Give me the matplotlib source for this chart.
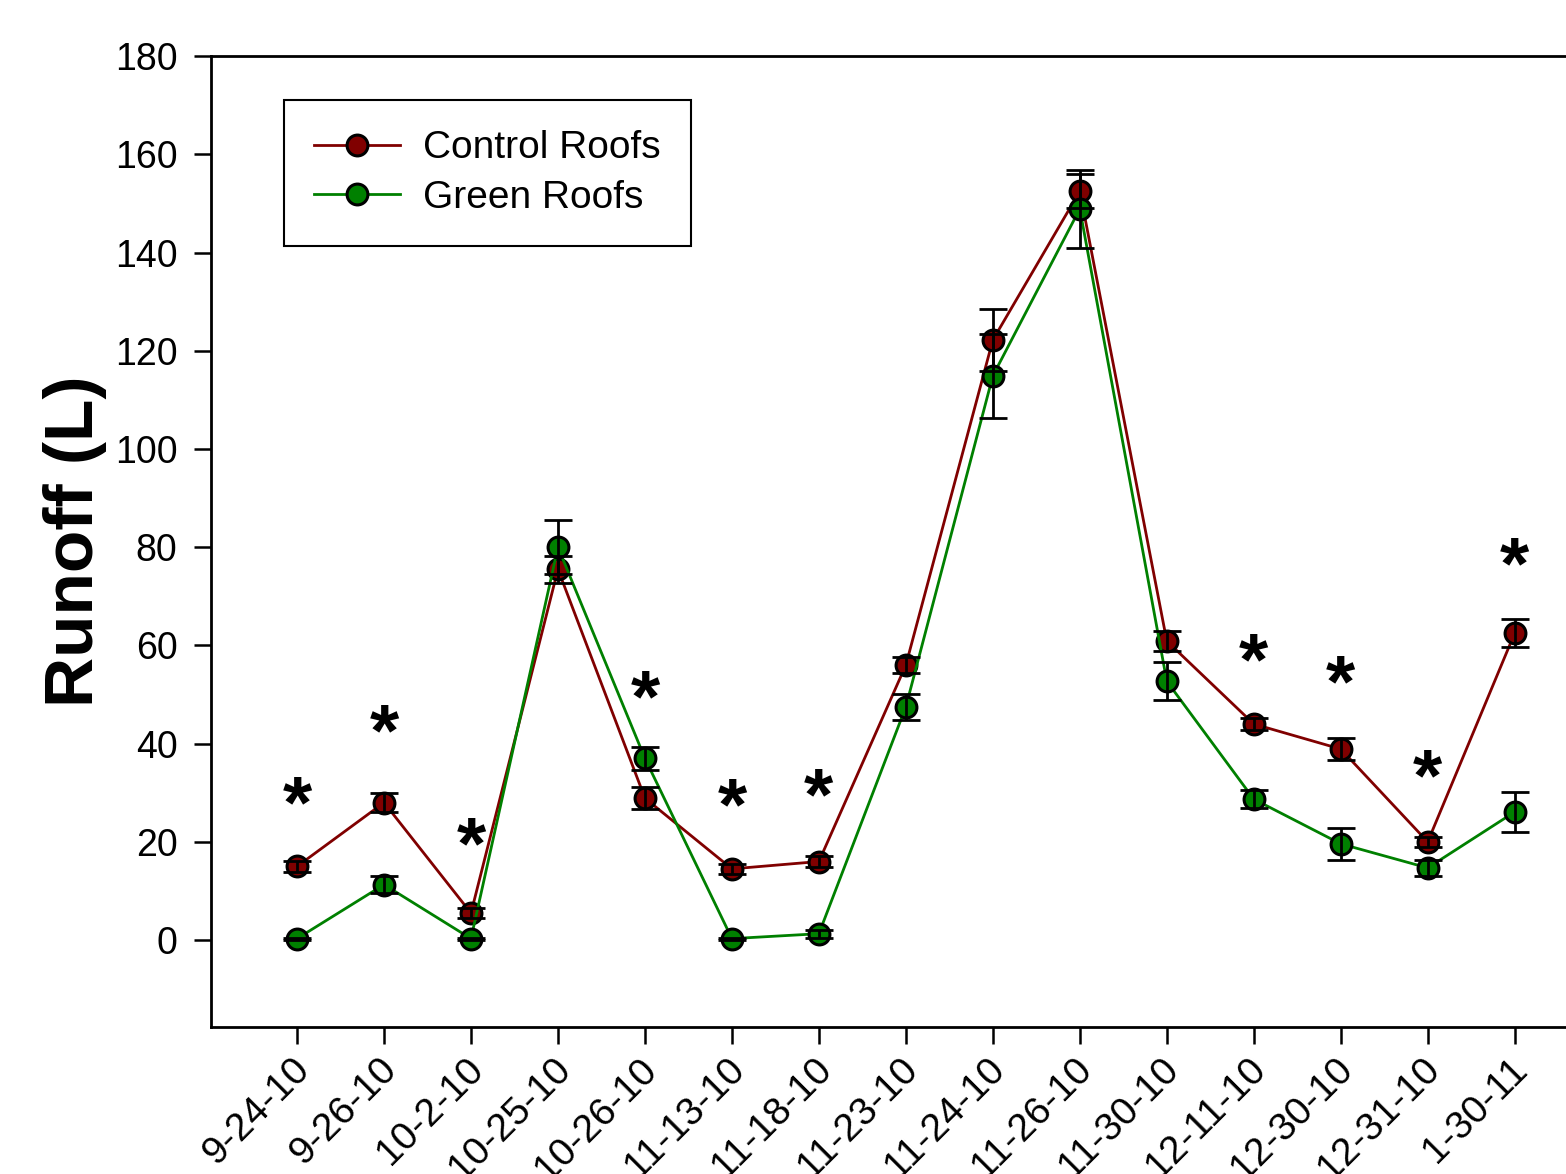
import numpy as np
import matplotlib
matplotlib.use("Agg")
from matplotlib import pyplot as plt
from matplotlib import transforms

plt.rcParams["font.family"] = ["Liberation Sans", "DejaVu Sans"]

dates = ["9-24-10", "9-26-10", "10-2-10", "10-25-10", "10-26-10", "11-13-10",
         "11-18-10", "11-23-10", "11-24-10", "11-26-10", "11-30-10", "12-11-10",
         "12-30-10", "12-31-10", "1-30-11"]

control = [15.0, 28.0, 5.5, 75.5, 28.9, 14.5, 16.0, 56.0, 122.2, 152.5,
           60.9, 44.0, 38.9, 20.0, 62.5]
control_err = [1.2, 1.9, 1.0, 2.8, 2.2, 1.0, 1.2, 1.6, 6.3, 3.5,
               2.0, 1.3, 2.2, 1.0, 2.8]

green = [0.3, 11.3, 0.3, 80.0, 37.0, 0.3, 1.3, 47.5, 114.9, 148.9,
         52.7, 28.7, 19.6, 14.7, 26.1]
green_err = [0.2, 1.7, 0.2, 5.5, 2.4, 0.2, 0.8, 2.6, 8.6, 8.0,
             3.9, 1.8, 3.2, 1.6, 4.0]

# significance markers: (index, height)
star_idx = [0, 1, 2, 4, 5, 6, 11, 12, 13, 14]
star_y = [27.0, 41.5, 18.5, 48.5, 26.5, 28.5, 56.0, 51.5, 32.5, 75.5]

red = "#800000"
grn = "#008000"

fig = plt.figure(figsize=(15.66, 11.74), dpi=100)
ax = fig.add_axes([0.1347, 0.1252, 0.8653, 0.8270])

x = np.arange(len(dates))

ax.plot(x, control, color=red, lw=2.0, marker="o", ms=15, mfc=red,
        mec="black", mew=2.2, label="Control Roofs", zorder=3)
ax.plot(x, green, color=grn, lw=2.0, marker="o", ms=15, mfc=grn,
        mec="black", mew=2.2, label="Green Roofs", zorder=3)
ax.errorbar(x, control, yerr=control_err, fmt="none", ecolor="black",
            elinewidth=2.0, capsize=10, capthick=2.0, zorder=4)
ax.errorbar(x, green, yerr=green_err, fmt="none", ecolor="black",
            elinewidth=2.0, capsize=10, capthick=2.0, zorder=4)

for i, yy in zip(star_idx, star_y):
    ax.text(x[i], yy, "*", ha="center", va="center", fontsize=54,
            fontweight="bold", color="black")

ax.set_xlim(-0.99, 14.59)
ax.set_ylim(-17.7, 180)
ax.set_yticks(np.arange(0, 181, 20))
ax.set_xticks(x)
ax.set_xticklabels(dates, rotation=45, ha="right", va="top",
                   rotation_mode="anchor")

ax.tick_params(axis="both", direction="out", length=12, width=1.8,
               labelsize=27)
ax.tick_params(axis="y", pad=12)
ax.tick_params(axis="x", labelsize=28, pad=7)
shift = transforms.ScaledTranslation(-6 / 100, 2 / 100, fig.dpi_scale_trans)
for lab in ax.get_xticklabels():
    lab.set_transform(lab.get_transform() + shift)
for s in ["left", "bottom", "top"]:
    ax.spines[s].set_linewidth(2.0)
ax.spines["right"].set_visible(False)

ax.set_ylabel("Runoff (L)", fontsize=50, fontweight="bold", labelpad=6)

leg = ax.legend(loc="upper left", bbox_to_anchor=(0.054, 0.955),
                borderaxespad=0, fontsize=28, frameon=True, fancybox=False,
                edgecolor="black", framealpha=1, handlelength=2.2,
                borderpad=0.78, labelspacing=0.35, handletextpad=0.58)
leg.get_frame().set_linewidth(1.5)

fig.savefig("out.png", dpi=100)
